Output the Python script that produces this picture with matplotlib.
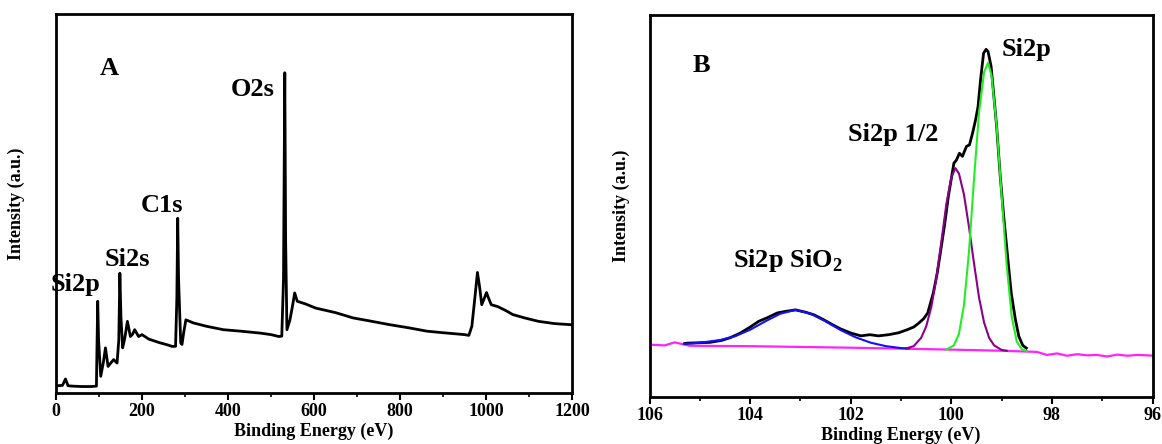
import matplotlib
matplotlib.use("Agg")
import matplotlib.pyplot as plt
from matplotlib.ticker import MultipleLocator

plt.rcParams['font.family'] = ['Liberation Serif', 'DejaVu Serif']
plt.rcParams['font.weight'] = 'bold'
plt.rcParams['mathtext.fontset'] = 'custom'
plt.rcParams['mathtext.rm'] = 'Liberation Serif:bold'

# Panel A: survey spectrum (binding energy eV, intensity a.u.)
survey_be = [0, 15, 22, 28, 40, 60, 80, 94, 95, 97, 99, 104, 110, 115, 121, 128, 134, 142,
             146, 148.5, 151, 155, 160, 166, 173, 178, 183, 192, 200, 216, 240, 259, 270, 278,
             281, 283, 285, 290, 293, 297, 302, 319, 350, 389, 430, 475, 500, 518, 525, 529,
             532, 534, 537, 544, 550, 555, 561, 580, 604, 650, 691, 730, 777, 820, 863, 900,
             950, 960, 967, 973, 980, 985, 990, 996, 1001, 1006, 1012, 1027, 1045, 1062, 1090,
             1122, 1160, 1200]
survey_int = [1.9, 2.0, 3.7, 1.9, 1.8, 1.7, 1.7, 1.8, 10.0, 24.2, 14.0, 4.4, 8.0, 11.9, 7.0, 8.0,
              8.8, 7.9, 14.0, 31.6, 20.0, 11.9, 14.5, 18.9, 14.9, 15.5, 16.7, 14.9, 15.4, 14.2,
              13.3, 12.7, 12.3, 12.3, 25.0, 46.1, 30.0, 13.2, 12.8, 16.0, 19.3, 18.5, 17.6,
              16.7, 16.3, 15.8, 15.4, 14.9, 15.0, 30.0, 84.5, 40.0, 16.7, 19.3, 23.0, 26.4,
              24.2, 23.5, 22.4, 21.2, 19.8, 19.0, 18.0, 17.2, 16.3, 15.9, 15.4, 15.2, 17.6,
              24.0, 31.8, 28.0, 23.3, 25.0, 26.5, 25.0, 23.3, 22.8, 21.8, 20.7, 19.8, 18.9,
              18.3, 18.0]
survey_labels = ["Si2p", "Si2s", "C1s", "O2s"]
survey_label_xy = [(45, 25.5), (166, 32.3), (246, 46.5), (458, 77.0)]

# Panel B: Si2p high-resolution spectrum
hr_be = [105.3, 105.24, 105.0, 104.8, 104.57, 104.4, 104.2, 104.0,
         103.83, 103.65, 103.46, 103.3, 103.1, 102.9, 102.73, 102.55, 102.36, 102.2, 101.99,
         101.8, 101.62, 101.45, 101.25, 101.05, 100.88, 100.75, 100.66, 100.55, 100.47,
         100.36, 100.28, 100.21, 100.13, 100.06, 99.95, 99.9, 99.84, 99.78, 99.7, 99.64,
         99.58, 99.52, 99.47, 99.42, 99.36, 99.31, 99.27, 99.21, 99.15, 99.1, 99.03, 98.96,
         98.88, 98.81, 98.73, 98.66, 98.58, 98.51]
hr_int = [14.0, 14.1, 14.2, 14.3, 14.8, 15.5, 16.7, 18.3, 19.8, 20.8, 22.0,
          22.4, 22.8, 22.2, 21.5, 20.3, 18.9, 17.8, 16.7, 16.0, 16.3, 16.0, 16.3, 16.8, 17.6,
          18.3, 19.2, 20.5, 22.0, 27.2, 32.5, 38.5, 45.5, 52.5, 61.2, 62.0, 63.8, 63.0, 65.6,
          66.0, 69.0, 72.5, 76.0, 83.0, 90.0, 91.0, 90.4, 86.5, 78.0, 70.8, 58.0, 47.3, 36.5,
          27.2, 20.5, 15.9, 13.5, 12.8]

bg_be = [106.0, 105.7, 105.5, 105.2, 104.0, 102.0, 100.0, 99.0, 98.3, 98.1, 97.9, 97.7,
         97.5, 97.3, 97.1, 96.9, 96.7, 96.5, 96.3, 96.1, 96.0]
bg_int = [13.7, 13.5, 14.3, 13.4, 13.3, 12.9, 12.4, 12.1, 11.8, 11.0, 11.4, 10.8, 11.2, 10.9,
          11.0, 10.6, 11.1, 10.8, 11.0, 10.9, 10.8]

sio2_be = [105.3, 105.0, 104.6, 104.3, 104.0, 103.7, 103.4, 103.1, 102.8, 102.5,
           102.2, 101.9, 101.6, 101.3, 101.0, 100.85]
sio2_int = [13.9, 14.2, 14.9, 15.9, 17.6, 19.8, 21.8, 22.8, 21.8, 19.8, 17.5, 15.6,
            14.2, 13.3, 12.8, 12.7]

si_half_be = [100.9, 100.75, 100.6, 100.5, 100.4, 100.3, 100.2, 100.1, 100.0, 99.92, 99.85,
              99.75, 99.65, 99.55, 99.45, 99.35, 99.25, 99.15, 99.0, 98.9]
si_half_int = [12.7, 13.3, 15.5, 18.5, 23.5, 31.0, 40.5, 50.5, 57.5, 59.9, 58.5, 53.0, 44.5,
               35.0, 26.0, 19.5, 15.5, 13.5, 12.3, 12.1]

si_be = [100.1, 99.95, 99.85, 99.75, 99.65, 99.55, 99.45, 99.35, 99.27, 99.2, 99.1, 99.0,
         98.9, 98.8, 98.7, 98.6, 98.5]
si_int = [12.4, 13.5, 16.5, 24.0, 38.0, 57.0, 74.5, 85.0, 87.5, 84.0, 71.0, 52.5, 34.5, 21.0,
          14.5, 12.5, 12.0]

fig = plt.figure(figsize=(11.62, 4.44), dpi=100)
ax1 = fig.add_axes([0.0482, 0.1149, 0.4441, 0.8536])
ax2 = fig.add_axes([0.559, 0.1059, 0.4329, 0.8604])

ax1.plot(survey_be, survey_int, color="black", lw=2.0)
ax1.set_xlim(0, 1200)
ax1.set_ylim(0, 100)
ax1.xaxis.set_major_locator(MultipleLocator(200))
ax1.xaxis.set_minor_locator(MultipleLocator(100))
for lab, (x, y) in zip(survey_labels, survey_label_xy):
    ax1.text(x, y, lab, fontsize=19, fontweight="bold", ha="center", va="bottom")
ax1.text(0.085, 0.84, "A", transform=ax1.transAxes, fontsize=19, fontweight="bold")

ax2.plot(bg_be, bg_int, color="#ff22ff", lw=1.6)
ax2.plot(hr_be, hr_int, color="black", lw=2.0)
ax2.plot(sio2_be, sio2_int, color="#1010ff", lw=1.5)
ax2.plot(si_half_be, si_half_int, color="#8a008a", lw=1.5)
ax2.plot(si_be, si_int, color="#22ee22", lw=1.5)
ax2.set_xlim(106, 96)
ax2.set_ylim(0, 100)
ax2.xaxis.set_major_locator(MultipleLocator(2))
ax2.xaxis.set_minor_locator(MultipleLocator(1))
ax2.text(0.085, 0.85, "B", transform=ax2.transAxes, fontsize=19, fontweight="bold")
ax2.text(98.5, 88.0, "Si2p", fontsize=19, fontweight="bold", ha="center", va="bottom")
ax2.text(100.25, 65.6, "Si2p 1/2", fontsize=19, fontweight="bold", ha="right", va="bottom")
ax2.text(103.26, 32.2, r"Si2p SiO$_2$", fontsize=19, fontweight="bold", ha="center", va="bottom")

for ax, pad in ((ax1, 22), (ax2, 14)):
    ax.set_yticks([])
    for sp in ax.spines.values():
        sp.set_linewidth(2.0)
    ax.tick_params(axis="x", which="major", direction="out", length=5, width=1.5,
                   labelsize=13, pad=2)
    ax.tick_params(axis="x", which="minor", direction="out", length=3, width=1.2)
    ax.set_xlabel("Binding Energy (eV)", fontsize=13, fontweight="bold", labelpad=2)
    ax.set_ylabel("Intensity (a.u.)", fontsize=13, fontweight="bold", labelpad=pad)
    for t in ax.get_xticklabels():
        t.set_fontweight("bold")

fig.savefig("out.png", dpi=100)
